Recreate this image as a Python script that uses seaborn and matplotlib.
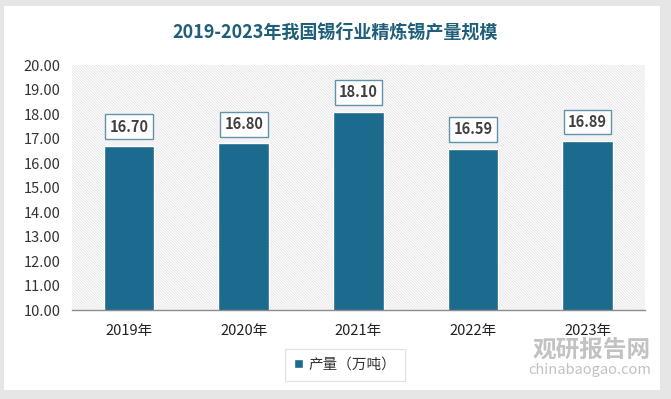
import matplotlib
matplotlib.use("Agg")
import matplotlib.pyplot as plt
from matplotlib.patches import Rectangle, Patch
import seaborn as sns
import pandas as pd

years = ["2019年", "2020年", "2021年", "2022年", "2023年"]
output = [16.70, 16.80, 18.10, 16.59, 16.89]
series_name = "产量（万吨）"
title = "2019-2023年我国锡行业精炼锡产量规模"

bar_color = "#1c6a8e"

sns.set_style("white")
plt.rcParams["font.family"] = ["Noto Sans CJK SC", "DejaVu Sans"]
plt.rcParams["hatch.color"] = "#e3e3e3"
plt.rcParams["hatch.linewidth"] = 0.6

fig = plt.figure(figsize=(6.71, 3.99), dpi=100, facecolor="#e6e6e6")
# white card behind everything
fig.patches.append(Rectangle((4 / 671, 1 - 390 / 399), 656 / 671, 384 / 399,
                             transform=fig.transFigure, facecolor="white",
                             edgecolor="none", zorder=-10))

ax = fig.add_axes([0.107, 0.223, 0.854, 0.614])
ax.set_facecolor("none")
ax.add_patch(Rectangle((0, 0), 1, 1, transform=ax.transAxes, facecolor="white",
                       edgecolor="#e3e3e3", hatch="\\" * 12, linewidth=0, zorder=0))

df = pd.DataFrame({"year": years, "output": output})
sns.barplot(data=df, x="year", y="output", color=bar_color, width=0.44,
            saturation=1, edgecolor="white", linewidth=1, ax=ax, zorder=2)

for i, v in enumerate(output):
    ax.text(i, v + 0.78, f"{v:.2f}", ha="center", va="center", fontsize=10.5,
            fontweight="bold", color="#404040", zorder=3,
            bbox=dict(boxstyle="square,pad=0.3", facecolor="white",
                      edgecolor="#5f93ab", linewidth=1))

ax.set_ylim(10, 20)
ax.set_yticks([10 + i for i in range(11)])
ax.set_yticklabels([f"{10 + i:.2f}" for i in range(11)], fontsize=10.5, color="#333333")
ax.tick_params(axis="x", labelsize=10.5, colors="#222222", length=0, pad=10)
ax.tick_params(axis="y", length=0, pad=8)
ax.set_xlabel("")
ax.set_ylabel("")
for s in ["top", "right", "left"]:
    ax.spines[s].set_visible(False)
ax.spines["bottom"].set_color("#8c8c8c")
ax.spines["bottom"].set_linewidth(1)

fig.text(0.5, 1 - 32 / 399, title, ha="center", va="center", fontsize=13,
         fontweight="bold", color="#1f5f7a")

leg = fig.legend(handles=[Patch(facecolor=bar_color, label=series_name)],
                 loc="center", bbox_to_anchor=(345 / 671, 1 - 365 / 399),
                 frameon=True, fancybox=False, edgecolor="#d9d9d9",
                 handlelength=0.6, handleheight=0.6, handletextpad=0.4,
                 borderpad=0.6, fontsize=10.5, borderaxespad=0)
leg.get_frame().set_linewidth(0.8)
leg.get_texts()[0].set_color("#333333")

# watermark
fig.text(592 / 671, 1 - 350 / 399, "观研报告网", ha="center", va="center",
         fontsize=17, fontweight="bold", color="#9a9a9a", alpha=0.6)
fig.text(590 / 671, 1 - 370 / 399, "chinabaogao.com", ha="center", va="center",
         fontsize=10.5, color="#9a9a9a", alpha=0.6)

fig.savefig("out.png", dpi=100, facecolor=fig.get_facecolor())
